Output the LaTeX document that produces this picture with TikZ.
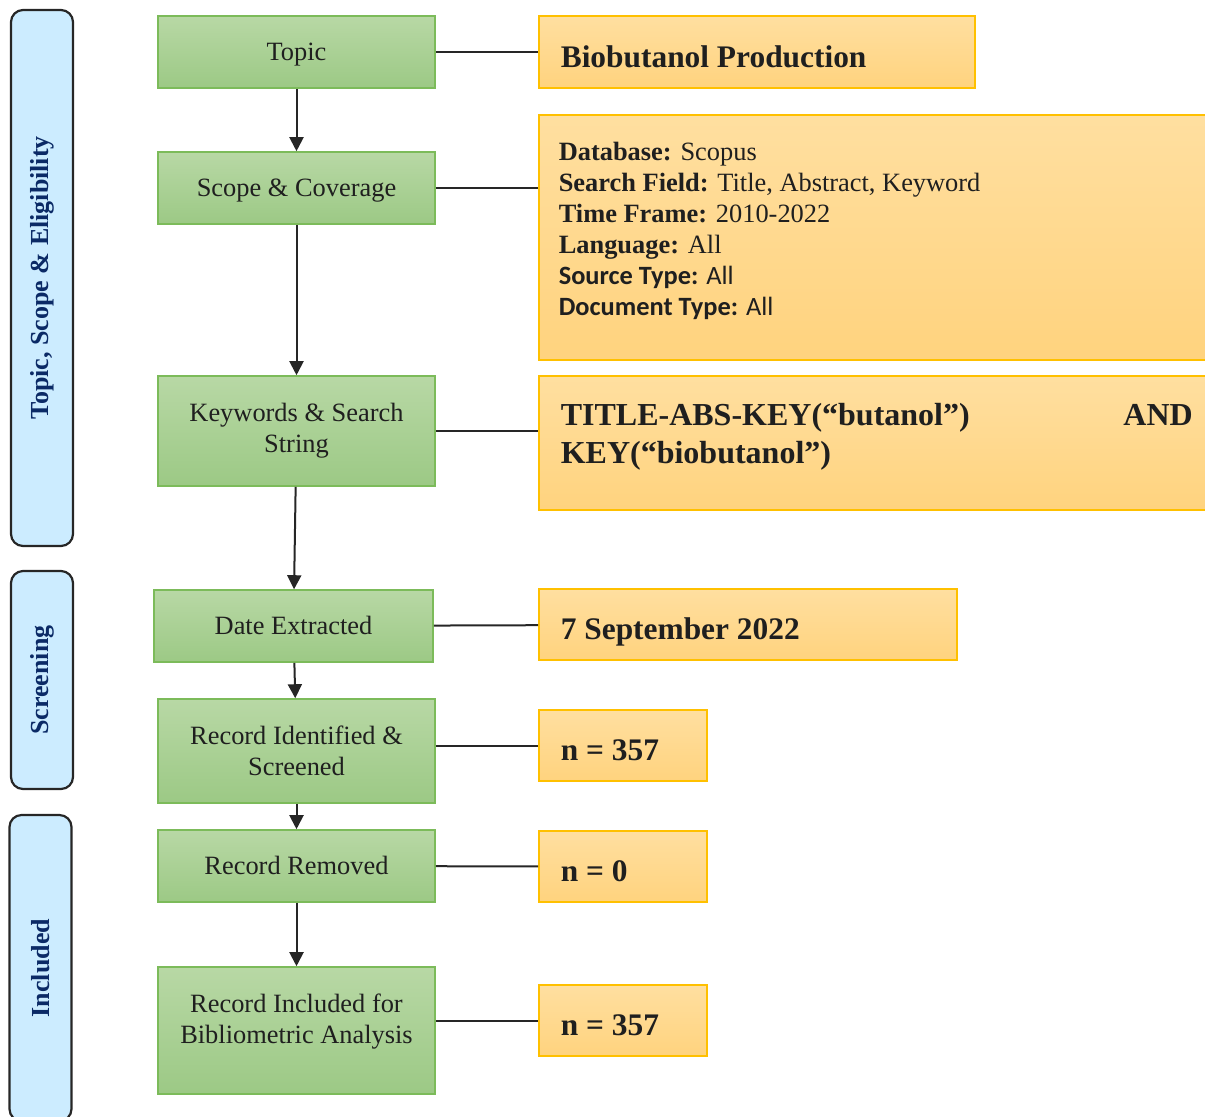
\documentclass[tikz,border=0pt]{standalone}
\usepackage{fontspec}
\setmainfont{Liberation Serif}
\newfontfamily\calib{Carlito}
\usepackage{xcolor}
\usepackage{tikz}
\usetikzlibrary{arrows.meta}
\definecolor{grnT}{HTML}{B8D8A5}
\definecolor{grnD}{HTML}{9CC985}
\definecolor{grnB}{HTML}{7CBB5A}
\definecolor{orgT}{HTML}{FFDFA0}
\definecolor{orgD}{HTML}{FFD37E}
\definecolor{orgB}{HTML}{FFC000}
\definecolor{phsF}{HTML}{CCECFF}
\definecolor{phsT}{HTML}{0B2A66}

\begin{document}
\begin{tikzpicture}[x=0.5pt, y=-0.5pt,
  every node/.style={font=\fontsize{13.2}{15.5}\selectfont, text=black!88},
  stage/.style={rectangle, draw=grnB, line width=0.8pt, top color=grnT, bottom color=grnD,
                minimum width=138.5pt, align=center, inner sep=3pt},
  one/.style={text height=10pt, text depth=1.2pt},
  info/.style={rectangle, draw=orgB, line width=0.8pt, top color=orgT, bottom color=orgD,
               anchor=west, align=flush left, inner xsep=11pt},
  val/.style={info, font=\fontsize{15.7}{19}\selectfont\bfseries, text height=15pt, text depth=0pt},
  phase/.style={rectangle, rounded corners=6pt, draw=black!85, line width=1.1pt, fill=phsF,
                minimum height=31pt, rotate=90, text=phsT, font=\fontsize{13}{15}\selectfont\bfseries},
  link/.style={line width=1pt, black!85},
  flow/.style={-{Triangle[length=7pt,width=7pt]}, line width=1pt, black!85}
]
  \useasboundingbox (0,0) rectangle (1205,1116);
  \node[phase, minimum width=268pt] (b1) at (42,278)   {Topic, Scope \& Eligibility};
  \node[phase, minimum width=109pt] (b2) at (42,680)   {Screening};
  \node[phase, minimum width=153pt] (b3) at (40.5,968) {Included};

  \node[stage, one, minimum height=36pt]                   (g1) at (296.5,52)    {Topic};
  \node[stage, one, minimum height=36pt]                   (g2) at (296.5,188)   {Scope \& Coverage};
  \node[stage, minimum height=55pt]                        (g3) at (296.5,431)   {Keywords \& Search\\String};
  \node[stage, one, minimum height=36pt, minimum width=139.5pt] (g4) at (293.5,626) {Date Extracted};
  \node[stage, minimum height=52pt]                        (g5) at (296.5,751)   {Record Identified \&\\Screened};
  \node[stage, one, minimum height=36pt]                   (g6) at (296.5,866)   {Record Removed};
  \node[stage, minimum height=63.5pt, text depth=11.7pt]   (g7) at (296.5,1030.5) {Record Included for\\Bibliometric Analysis};

  \node[val, minimum height=36pt, text width=196pt] (o1) at (538,52) {Biobutanol Production};
  \node[info, minimum height=122.5pt, text width=316pt, text depth=86.2pt, inner xsep=10pt] (o2) at (538,237.5)
       {\textbf{Database:} Scopus\\
        \textbf{Search Field:} Title, Abstract, Keyword\\
        \textbf{Time Frame:} 2010-2022\\
        \textbf{Language:} All\\
        {\calib\textbf{Source Type:} All}\\
        {\calib\textbf{Document Type:} All}};
  \node[info, font=\fontsize{16}{19}\selectfont\bfseries, minimum height=67pt, text width=316pt, text depth=28.4pt] (o3) at (538,443)
       {TITLE-ABS-KEY(“butanol”)\hfill AND\\KEY(“biobutanol”)};
  \node[val, minimum height=35.5pt, text width=187pt] (o4) at (538,624.5)  {7 September 2022};
  \node[val, minimum height=35.5pt, text width=62pt]  (o5) at (538,745.5)  {n = 357};
  \node[val, minimum height=35.5pt, text width=62pt]  (o6) at (538,866.5)  {n = 0};
  \node[val, minimum height=35.5pt, text width=62pt]  (o7) at (538,1020.5) {n = 357};

  \draw[link] (g1) -- (o1);
  \draw[link] (g2.east) -- (g2.east -| o2.west);
  \draw[link] (g3.east) -- (g3.east -| o3.west);
  \draw[link] (g4) -- (o4);
  \draw[link] (o5.west -| g5.east) -- (o5.west);
  \draw[link] (g6) -- (o6);
  \draw[link] (o7.west -| g7.east) -- (o7.west);

  \foreach \a/\b in {g1/g2,g2/g3,g3/g4,g4/g5,g5/g6,g6/g7}
    \draw[flow] (\a) -- (\b);
\end{tikzpicture}
\end{document}
